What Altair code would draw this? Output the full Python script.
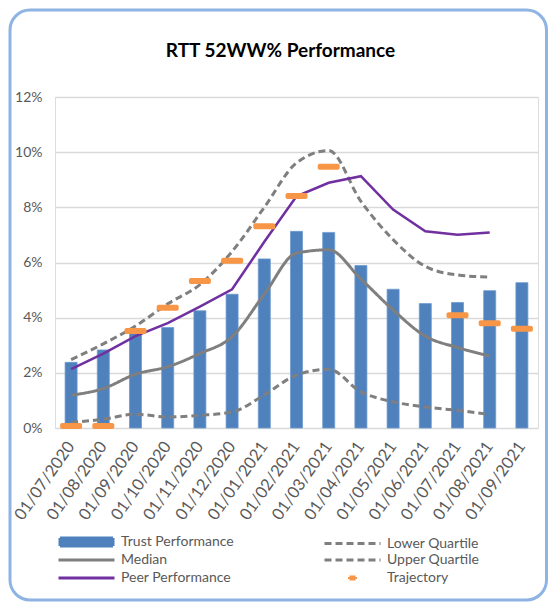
import altair as alt
import pandas as pd

dates = ["01/07/2020", "01/08/2020", "01/09/2020", "01/10/2020", "01/11/2020",
         "01/12/2020", "01/01/2021", "01/02/2021", "01/03/2021", "01/04/2021",
         "01/05/2021", "01/06/2021", "01/07/2021", "01/08/2021", "01/09/2021"]

trust = [2.38, 2.83, 3.45, 3.64, 4.25, 4.85, 6.13, 7.13, 7.09, 5.89, 5.03, 4.51, 4.55, 4.98, 5.27]
lower = [0.20, 0.32, 0.50, 0.40, 0.46, 0.58, 1.20, 1.92, 2.13, 1.31, 0.95, 0.76, 0.64, 0.49, None]
median = [1.19, 1.43, 1.95, 2.22, 2.70, 3.31, 4.85, 6.34, 6.46, 5.40, 4.28, 3.33, 2.92, 2.61, None]
upper = [2.48, 3.05, 3.70, 4.50, 5.20, 6.40, 8.00, 9.61, 10.06, 8.22, 6.83, 5.86, 5.55, 5.47, None]
peer = [2.13, 2.70, 3.33, 3.80, 4.40, 5.03, 6.75, 8.40, 8.89, 9.13, 7.92, 7.13, 7.01, 7.09, None]
trajectory = [0.07, 0.07, 3.52, 4.36, 5.33, 6.06, 7.31, 8.41, 9.47, None, None, None, 4.09, 3.80, 3.60]

# legend order (filled column by column: left column first, then right column)
series_names = ["Trust Performance", "Median", "Peer Performance",
                "Lower Quartile", "Upper Quartile", "Trajectory"]
y_ticks = [0, 0.02, 0.04, 0.06, 0.08, 0.10, 0.12]

rows = []
for name, vals in [("Trust Performance", trust), ("Lower Quartile", lower),
                   ("Median", median), ("Upper Quartile", upper),
                   ("Peer Performance", peer), ("Trajectory", trajectory)]:
    for d, v in zip(dates, vals):
        if v is not None:
            rows.append({"date": d, "series": name, "value": v / 100})
df = pd.DataFrame(rows)

FONT = "Lato"
colors = ["#4F81BD", "#7F7F7F", "#7030A0", "#7F7F7F", "#7F7F7F", "#F79646"]
fills = ["#4F81BD", "transparent", "transparent", "transparent", "transparent", "#F79646"]
dashes = [[1, 0], [1, 0], [1, 0], [7, 4], [7, 4], [1, 0]]
LINE_SYM = "M-1.3,0H9.9"
shapes = ["M-1.0,-0.8H9.6V0.8H-1.0Z", LINE_SYM, LINE_SYM, LINE_SYM, LINE_SYM,
          "M3.7,-0.2H4.9V0.2H3.7Z"]

color_scale = alt.Scale(domain=series_names, range=colors)
fill_scale = alt.Scale(domain=series_names, range=fills)
dash_scale = alt.Scale(domain=series_names, range=dashes)
shape_scale = alt.Scale(domain=series_names, range=shapes)

x_enc = alt.X("date:N", sort=dates,
              scale=alt.Scale(paddingInner=0.627, paddingOuter=0.3135),
              axis=alt.Axis(title=None, labelAngle=-55, labelAlign="right",
                            labelBaseline="middle", labelPadding=15, ticks=False,
                            domain=False, grid=False, labelFont=FONT, labelFontSize=16.5,
                            labelColor="#595959"))
y_enc = alt.Y("value:Q", scale=alt.Scale(domain=[0, 0.12], nice=False),
              axis=alt.Axis(title=None, values=y_ticks, format=".0%", ticks=False,
                            domain=False, labelPadding=13, labelFont=FONT,
                            labelFontSize=14, labelColor="#595959",
                            gridColor="#D9D9D9", gridWidth=1.5))

base = alt.Chart(df)

frame = alt.Chart(pd.DataFrame({"k": [0]})).mark_rect(
    fill="transparent", stroke="#8EB4E3", strokeWidth=3, cornerRadius=20
).encode(x=alt.value(-45), x2=alt.value(491.5), y=alt.value(-87), y2=alt.value(503))

bars = base.transform_filter(alt.datum.series == "Trust Performance").mark_bar(
    stroke="#6D9AD0", strokeWidth=0.8
).encode(x=x_enc, y=y_enc, color=alt.Color("series:N", scale=color_scale, legend=None))

smooth = base.transform_filter(
    alt.FieldOneOfPredicate(field="series", oneOf=["Lower Quartile", "Median", "Upper Quartile"])
).mark_line(interpolate="monotone", strokeWidth=3).encode(
    x=x_enc, y=y_enc,
    color=alt.Color("series:N", scale=color_scale, legend=None),
    strokeDash=alt.StrokeDash("series:N", scale=dash_scale, legend=None))

peer_line = base.transform_filter(alt.datum.series == "Peer Performance").mark_line(
    strokeWidth=2.5
).encode(x=x_enc, y=y_enc, color=alt.Color("series:N", scale=color_scale, legend=None))

ticks = base.transform_filter(alt.datum.series == "Trajectory").mark_tick(
    size=22, thickness=6, cornerRadius=2, opacity=1
).encode(x=x_enc, y=y_enc, color=alt.Color("series:N", scale=color_scale, legend=None))

leg = alt.Legend(title=None, orient="none", legendX=3, legendY=438, columns=2,
                 columnPadding=84, rowPadding=1, gridAlign="all",
                 labelFont=FONT, labelFontSize=14, labelColor="#595959",
                 labelOffset=49, symbolSize=100, symbolStrokeWidth=3, symbolOpacity=1)

legend_layer = base.transform_filter("false").mark_point(
    filled=False, size=100, strokeWidth=3, opacity=1
).encode(
    color=alt.Color("series:N", scale=color_scale, legend=leg),
    fill=alt.Fill("series:N", scale=fill_scale, legend=leg),
    shape=alt.Shape("series:N", scale=shape_scale, legend=leg),
    strokeDash=alt.StrokeDash("series:N", scale=dash_scale, legend=leg))

chart = alt.layer(frame, bars, smooth, peer_line, ticks, legend_layer).resolve_legend(
    color="independent", strokeDash="independent", shape="independent",
    fill="independent"
).properties(
    width=483, height=331,
    padding={"left": 47, "top": 89, "right": 10, "bottom": 174},
    autosize=alt.AutoSizeParams(type="none"),
    title=alt.TitleParams("RTT 52WW% Performance", font=FONT, fontSize=19,
                          fontWeight="bold", color="#000000", anchor="middle",
                          dx=-16, offset=-52, frame="group"),
).configure_view(stroke=None).configure(background="white")

chart.save("out.html", embed_options={"renderer": "svg", "actions": False})
